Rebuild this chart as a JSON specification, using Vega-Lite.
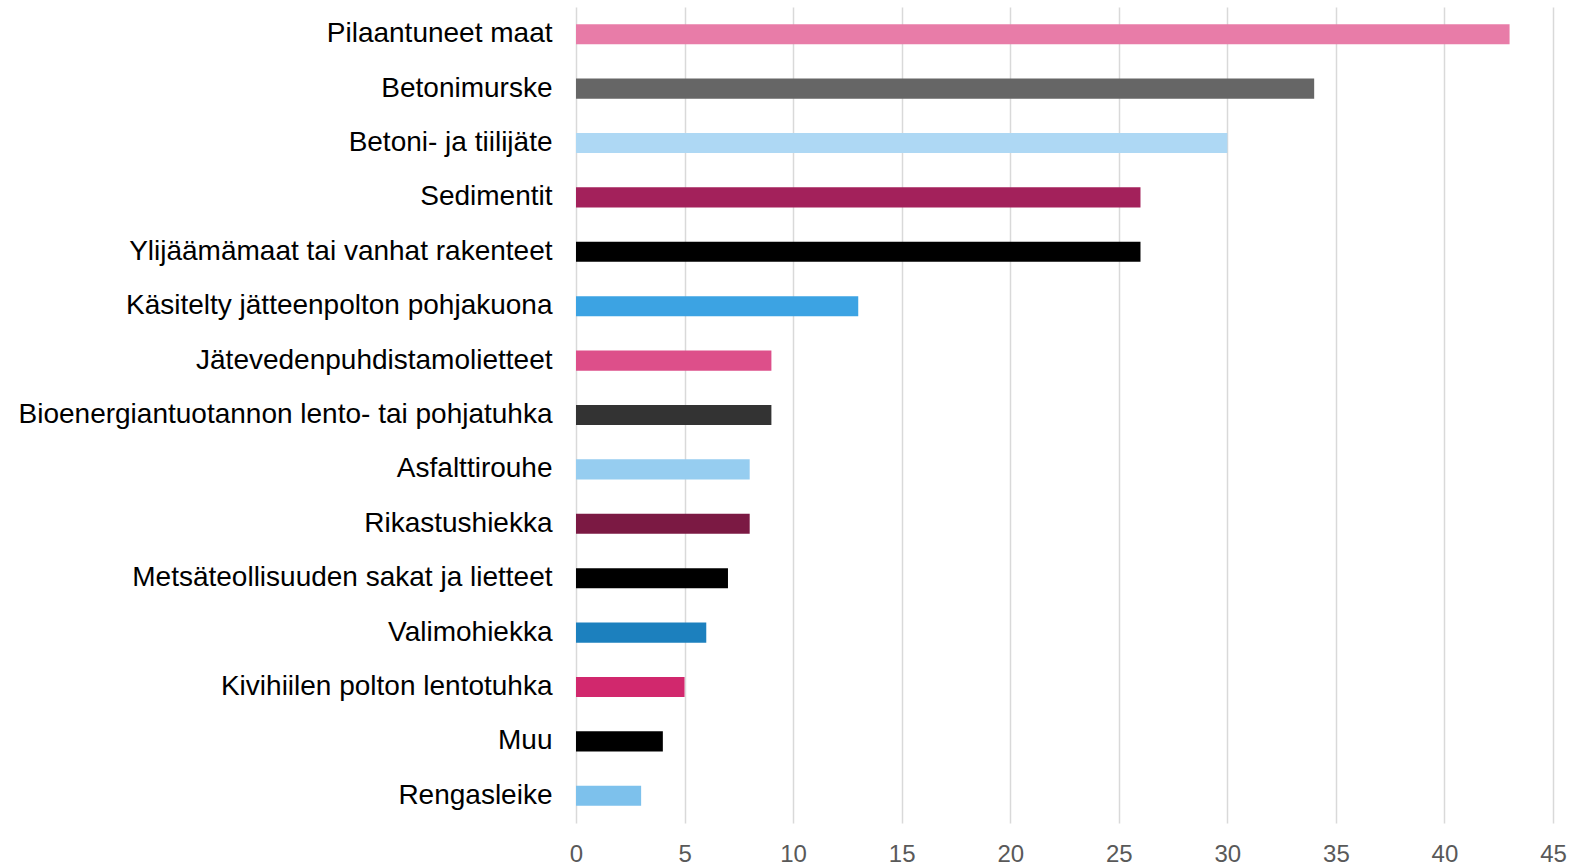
{
  "$schema": "https://vega.github.io/schema/vega-lite/v6.json",
  "width": 977,
  "height": 816,
  "autosize": {"type": "none"},
  "padding": {"left": 576, "top": 7, "right": 18, "bottom": 40},
  "background": "white",
  "config": {"view": {"stroke": null}},
  "data": {
    "values": [
      {"kategoria": "Pilaantuneet maat", "arvo": 43},
      {"kategoria": "Betonimurske", "arvo": 34},
      {"kategoria": "Betoni- ja tiilijäte", "arvo": 30},
      {"kategoria": "Sedimentit", "arvo": 26},
      {"kategoria": "Ylijäämämaat tai vanhat rakenteet", "arvo": 26},
      {"kategoria": "Käsitelty jätteenpolton pohjakuona", "arvo": 13},
      {"kategoria": "Jätevedenpuhdistamolietteet", "arvo": 9},
      {"kategoria": "Bioenergiantuotannon lento- tai pohjatuhka", "arvo": 9},
      {"kategoria": "Asfalttirouhe", "arvo": 8},
      {"kategoria": "Rikastushiekka", "arvo": 8},
      {"kategoria": "Metsäteollisuuden sakat ja lietteet", "arvo": 7},
      {"kategoria": "Valimohiekka", "arvo": 6},
      {"kategoria": "Kivihiilen polton lentotuhka", "arvo": 5},
      {"kategoria": "Muu", "arvo": 4},
      {"kategoria": "Rengasleike", "arvo": 3}
    ]
  },
  "mark": {"type": "bar"},
  "encoding": {
    "y": {
      "field": "kategoria",
      "type": "nominal",
      "sort": null,
      "scale": {"paddingInner": 0.63, "paddingOuter": 0.315},
      "axis": {
        "title": null,
        "domain": false,
        "ticks": false,
        "labelPadding": 24,
        "labelFont": "Liberation Sans",
        "labelFontSize": 28,
        "labelColor": "#000000",
        "labelLimit": 1000
      }
    },
    "x": {
      "field": "arvo",
      "type": "quantitative",
      "scale": {"domain": [0, 45], "nice": false},
      "axis": {
        "title": null,
        "values": [0, 5, 10, 15, 20, 25, 30, 35, 40, 45],
        "domain": false,
        "ticks": false,
        "grid": true,
        "gridColor": "#d9d9d9",
        "gridWidth": 1.5,
        "labelPadding": 19,
        "labelFont": "Liberation Sans",
        "labelFontSize": 24,
        "labelColor": "#595959",
        "labelFlush": false
      }
    },
    "color": {
      "field": "kategoria",
      "type": "nominal",
      "legend": null,
      "scale": {
        "domain": [
          "Pilaantuneet maat", "Betonimurske", "Betoni- ja tiilijäte", "Sedimentit",
          "Ylijäämämaat tai vanhat rakenteet", "Käsitelty jätteenpolton pohjakuona",
          "Jätevedenpuhdistamolietteet", "Bioenergiantuotannon lento- tai pohjatuhka",
          "Asfalttirouhe", "Rikastushiekka", "Metsäteollisuuden sakat ja lietteet",
          "Valimohiekka", "Kivihiilen polton lentotuhka", "Muu", "Rengasleike"
        ],
        "range": [
          "#E87CA8", "#666666", "#AED8F4", "#A3215B", "#000000", "#3CA3E3",
          "#DD4F8A", "#333333", "#96CDF0", "#7B1943", "#000000", "#1C80BE",
          "#D1286D", "#000000", "#7DC1EC"
        ]
      }
    }
  }
}
